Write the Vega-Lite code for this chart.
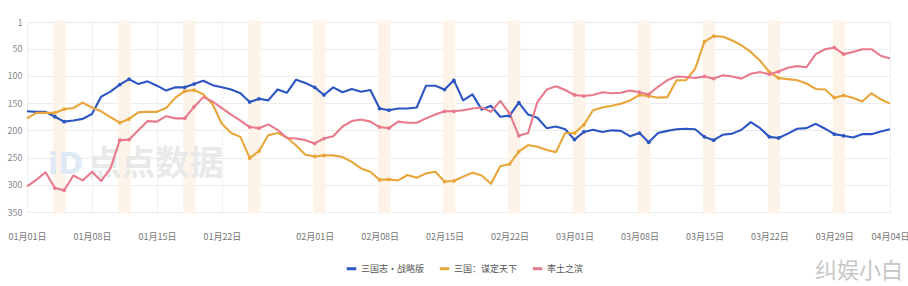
{
  "$schema": "https://vega.github.io/schema/vega-lite/v6.json",
  "width": 863,
  "height": 190,
  "autosize": {"type": "none"},
  "padding": {"left": 27, "top": 22, "right": 18, "bottom": 74},
  "background": "white",
  "title": {"text": "纠娱小白", "orient": "bottom", "anchor": "end", "fontSize": 22, "fontWeight": "normal", "color": "#c6c6c6", "font": "Noto Sans CJK SC", "offset": -14, "dx": -6},
  "config": {
    "view": {"stroke": null},
    "font": "Noto Sans CJK SC",
    "axis": {"labelFont": "Noto Sans CJK SC"}
  },
  "datasets": {
    "weekends": [
      {"start": "2025/01/04", "end": "2025/01/05"},
      {"start": "2025/01/11", "end": "2025/01/12"},
      {"start": "2025/01/18", "end": "2025/01/19"},
      {"start": "2025/01/25", "end": "2025/01/26"},
      {"start": "2025/02/01", "end": "2025/02/02"},
      {"start": "2025/02/08", "end": "2025/02/09"},
      {"start": "2025/02/15", "end": "2025/02/16"},
      {"start": "2025/02/22", "end": "2025/02/23"},
      {"start": "2025/03/01", "end": "2025/03/02"},
      {"start": "2025/03/08", "end": "2025/03/09"},
      {"start": "2025/03/15", "end": "2025/03/16"},
      {"start": "2025/03/22", "end": "2025/03/23"},
      {"start": "2025/03/29", "end": "2025/03/30"}
    ],
    "watermark": [{"label": "点点数据"}],
    "logo": [{"label": "iD"}],
    "ranks": [
      {"date":"2025/01/01","game":"三国志·战略版","rank":165},{"date":"2025/01/02","game":"三国志·战略版","rank":166},{"date":"2025/01/03","game":"三国志·战略版","rank":166},{"date":"2025/01/04","game":"三国志·战略版","rank":175},{"date":"2025/01/05","game":"三国志·战略版","rank":184},{"date":"2025/01/06","game":"三国志·战略版","rank":182},{"date":"2025/01/07","game":"三国志·战略版","rank":179},{"date":"2025/01/08","game":"三国志·战略版","rank":170},{"date":"2025/01/09","game":"三国志·战略版","rank":138},{"date":"2025/01/10","game":"三国志·战略版","rank":129},
      {"date":"2025/01/11","game":"三国志·战略版","rank":116},{"date":"2025/01/12","game":"三国志·战略版","rank":106},{"date":"2025/01/13","game":"三国志·战略版","rank":115},{"date":"2025/01/14","game":"三国志·战略版","rank":110},{"date":"2025/01/15","game":"三国志·战略版","rank":118},{"date":"2025/01/16","game":"三国志·战略版","rank":127},{"date":"2025/01/17","game":"三国志·战略版","rank":121},{"date":"2025/01/18","game":"三国志·战略版","rank":121},{"date":"2025/01/19","game":"三国志·战略版","rank":115},{"date":"2025/01/20","game":"三国志·战略版","rank":109},
      {"date":"2025/01/21","game":"三国志·战略版","rank":117},{"date":"2025/01/22","game":"三国志·战略版","rank":121},{"date":"2025/01/23","game":"三国志·战略版","rank":125},{"date":"2025/01/24","game":"三国志·战略版","rank":132},{"date":"2025/01/25","game":"三国志·战略版","rank":148},{"date":"2025/01/26","game":"三国志·战略版","rank":142},{"date":"2025/01/27","game":"三国志·战略版","rank":145},{"date":"2025/01/28","game":"三国志·战略版","rank":125},{"date":"2025/01/29","game":"三国志·战略版","rank":131},{"date":"2025/01/30","game":"三国志·战略版","rank":107},
      {"date":"2025/01/31","game":"三国志·战略版","rank":113},{"date":"2025/02/01","game":"三国志·战略版","rank":121},{"date":"2025/02/02","game":"三国志·战略版","rank":135},{"date":"2025/02/03","game":"三国志·战略版","rank":121},{"date":"2025/02/04","game":"三国志·战略版","rank":130},{"date":"2025/02/05","game":"三国志·战略版","rank":124},{"date":"2025/02/06","game":"三国志·战略版","rank":129},{"date":"2025/02/07","game":"三国志·战略版","rank":126},{"date":"2025/02/08","game":"三国志·战略版","rank":160},{"date":"2025/02/09","game":"三国志·战略版","rank":163},
      {"date":"2025/02/10","game":"三国志·战略版","rank":160},{"date":"2025/02/11","game":"三国志·战略版","rank":160},{"date":"2025/02/12","game":"三国志·战略版","rank":158},{"date":"2025/02/13","game":"三国志·战略版","rank":118},{"date":"2025/02/14","game":"三国志·战略版","rank":118},{"date":"2025/02/15","game":"三国志·战略版","rank":125},{"date":"2025/02/16","game":"三国志·战略版","rank":108},{"date":"2025/02/17","game":"三国志·战略版","rank":145},{"date":"2025/02/18","game":"三国志·战略版","rank":134},{"date":"2025/02/19","game":"三国志·战略版","rank":162},
      {"date":"2025/02/20","game":"三国志·战略版","rank":155},{"date":"2025/02/21","game":"三国志·战略版","rank":175},{"date":"2025/02/22","game":"三国志·战略版","rank":173},{"date":"2025/02/23","game":"三国志·战略版","rank":149},{"date":"2025/02/24","game":"三国志·战略版","rank":171},{"date":"2025/02/25","game":"三国志·战略版","rank":177},{"date":"2025/02/26","game":"三国志·战略版","rank":196},{"date":"2025/02/27","game":"三国志·战略版","rank":193},{"date":"2025/02/28","game":"三国志·战略版","rank":198},{"date":"2025/03/01","game":"三国志·战略版","rank":217},
      {"date":"2025/03/02","game":"三国志·战略版","rank":203},{"date":"2025/03/03","game":"三国志·战略版","rank":199},{"date":"2025/03/04","game":"三国志·战略版","rank":203},{"date":"2025/03/05","game":"三国志·战略版","rank":200},{"date":"2025/03/06","game":"三国志·战略版","rank":201},{"date":"2025/03/07","game":"三国志·战略版","rank":211},{"date":"2025/03/08","game":"三国志·战略版","rank":205},{"date":"2025/03/09","game":"三国志·战略版","rank":222},{"date":"2025/03/10","game":"三国志·战略版","rank":205},{"date":"2025/03/11","game":"三国志·战略版","rank":201},
      {"date":"2025/03/12","game":"三国志·战略版","rank":198},{"date":"2025/03/13","game":"三国志·战略版","rank":197},{"date":"2025/03/14","game":"三国志·战略版","rank":198},{"date":"2025/03/15","game":"三国志·战略版","rank":212},{"date":"2025/03/16","game":"三国志·战略版","rank":218},{"date":"2025/03/17","game":"三国志·战略版","rank":208},{"date":"2025/03/18","game":"三国志·战略版","rank":206},{"date":"2025/03/19","game":"三国志·战略版","rank":199},{"date":"2025/03/20","game":"三国志·战略版","rank":185},{"date":"2025/03/21","game":"三国志·战略版","rank":196},
      {"date":"2025/03/22","game":"三国志·战略版","rank":212},{"date":"2025/03/23","game":"三国志·战略版","rank":214},{"date":"2025/03/24","game":"三国志·战略版","rank":206},{"date":"2025/03/25","game":"三国志·战略版","rank":197},{"date":"2025/03/26","game":"三国志·战略版","rank":196},{"date":"2025/03/27","game":"三国志·战略版","rank":188},{"date":"2025/03/28","game":"三国志·战略版","rank":197},{"date":"2025/03/29","game":"三国志·战略版","rank":207},{"date":"2025/03/30","game":"三国志·战略版","rank":210},{"date":"2025/03/31","game":"三国志·战略版","rank":213},
      {"date":"2025/04/01","game":"三国志·战略版","rank":207},{"date":"2025/04/02","game":"三国志·战略版","rank":207},{"date":"2025/04/03","game":"三国志·战略版","rank":202},{"date":"2025/04/04","game":"三国志·战略版","rank":198},

      {"date":"2025/01/01","game":"三国：谋定天下","rank":178},{"date":"2025/01/02","game":"三国：谋定天下","rank":168},{"date":"2025/01/03","game":"三国：谋定天下","rank":168},{"date":"2025/01/04","game":"三国：谋定天下","rank":168},{"date":"2025/01/05","game":"三国：谋定天下","rank":161},{"date":"2025/01/06","game":"三国：谋定天下","rank":159},{"date":"2025/01/07","game":"三国：谋定天下","rank":149},{"date":"2025/01/08","game":"三国：谋定天下","rank":158},{"date":"2025/01/09","game":"三国：谋定天下","rank":165},{"date":"2025/01/10","game":"三国：谋定天下","rank":176},
      {"date":"2025/01/11","game":"三国：谋定天下","rank":186},{"date":"2025/01/12","game":"三国：谋定天下","rank":179},{"date":"2025/01/13","game":"三国：谋定天下","rank":167},{"date":"2025/01/14","game":"三国：谋定天下","rank":166},{"date":"2025/01/15","game":"三国：谋定天下","rank":166},{"date":"2025/01/16","game":"三国：谋定天下","rank":159},{"date":"2025/01/17","game":"三国：谋定天下","rank":140},{"date":"2025/01/18","game":"三国：谋定天下","rank":128},{"date":"2025/01/19","game":"三国：谋定天下","rank":126},{"date":"2025/01/20","game":"三国：谋定天下","rank":134},
      {"date":"2025/01/21","game":"三国：谋定天下","rank":152},{"date":"2025/01/22","game":"三国：谋定天下","rank":188},{"date":"2025/01/23","game":"三国：谋定天下","rank":205},{"date":"2025/01/24","game":"三国：谋定天下","rank":212},{"date":"2025/01/25","game":"三国：谋定天下","rank":251},{"date":"2025/01/26","game":"三国：谋定天下","rank":238},{"date":"2025/01/27","game":"三国：谋定天下","rank":209},{"date":"2025/01/28","game":"三国：谋定天下","rank":205},{"date":"2025/01/29","game":"三国：谋定天下","rank":213},{"date":"2025/01/30","game":"三国：谋定天下","rank":228},
      {"date":"2025/01/31","game":"三国：谋定天下","rank":245},{"date":"2025/02/01","game":"三国：谋定天下","rank":248},{"date":"2025/02/02","game":"三国：谋定天下","rank":246},{"date":"2025/02/03","game":"三国：谋定天下","rank":246},{"date":"2025/02/04","game":"三国：谋定天下","rank":249},{"date":"2025/02/05","game":"三国：谋定天下","rank":258},{"date":"2025/02/06","game":"三国：谋定天下","rank":270},{"date":"2025/02/07","game":"三国：谋定天下","rank":276},{"date":"2025/02/08","game":"三国：谋定天下","rank":291},{"date":"2025/02/09","game":"三国：谋定天下","rank":290},
      {"date":"2025/02/10","game":"三国：谋定天下","rank":292},{"date":"2025/02/11","game":"三国：谋定天下","rank":282},{"date":"2025/02/12","game":"三国：谋定天下","rank":287},{"date":"2025/02/13","game":"三国：谋定天下","rank":279},{"date":"2025/02/14","game":"三国：谋定天下","rank":276},{"date":"2025/02/15","game":"三国：谋定天下","rank":294},{"date":"2025/02/16","game":"三国：谋定天下","rank":293},{"date":"2025/02/17","game":"三国：谋定天下","rank":285},{"date":"2025/02/18","game":"三国：谋定天下","rank":278},{"date":"2025/02/19","game":"三国：谋定天下","rank":283},
      {"date":"2025/02/20","game":"三国：谋定天下","rank":298},{"date":"2025/02/21","game":"三国：谋定天下","rank":266},{"date":"2025/02/22","game":"三国：谋定天下","rank":262},{"date":"2025/02/23","game":"三国：谋定天下","rank":239},{"date":"2025/02/24","game":"三国：谋定天下","rank":227},{"date":"2025/02/25","game":"三国：谋定天下","rank":230},{"date":"2025/02/26","game":"三国：谋定天下","rank":236},{"date":"2025/02/27","game":"三国：谋定天下","rank":240},{"date":"2025/02/28","game":"三国：谋定天下","rank":205},{"date":"2025/03/01","game":"三国：谋定天下","rank":205},
      {"date":"2025/03/02","game":"三国：谋定天下","rank":190},{"date":"2025/03/03","game":"三国：谋定天下","rank":163},{"date":"2025/03/04","game":"三国：谋定天下","rank":158},{"date":"2025/03/05","game":"三国：谋定天下","rank":155},{"date":"2025/03/06","game":"三国：谋定天下","rank":151},{"date":"2025/03/07","game":"三国：谋定天下","rank":145},{"date":"2025/03/08","game":"三国：谋定天下","rank":135},{"date":"2025/03/09","game":"三国：谋定天下","rank":137},{"date":"2025/03/10","game":"三国：谋定天下","rank":140},{"date":"2025/03/11","game":"三国：谋定天下","rank":139},
      {"date":"2025/03/12","game":"三国：谋定天下","rank":108},{"date":"2025/03/13","game":"三国：谋定天下","rank":108},{"date":"2025/03/14","game":"三国：谋定天下","rank":87},{"date":"2025/03/15","game":"三国：谋定天下","rank":37},{"date":"2025/03/16","game":"三国：谋定天下","rank":27},{"date":"2025/03/17","game":"三国：谋定天下","rank":28},{"date":"2025/03/18","game":"三国：谋定天下","rank":35},{"date":"2025/03/19","game":"三国：谋定天下","rank":44},{"date":"2025/03/20","game":"三国：谋定天下","rank":56},{"date":"2025/03/21","game":"三国：谋定天下","rank":72},
      {"date":"2025/03/22","game":"三国：谋定天下","rank":93},{"date":"2025/03/23","game":"三国：谋定天下","rank":104},{"date":"2025/03/24","game":"三国：谋定天下","rank":106},{"date":"2025/03/25","game":"三国：谋定天下","rank":108},{"date":"2025/03/26","game":"三国：谋定天下","rank":114},{"date":"2025/03/27","game":"三国：谋定天下","rank":124},{"date":"2025/03/28","game":"三国：谋定天下","rank":125},{"date":"2025/03/29","game":"三国：谋定天下","rank":140},{"date":"2025/03/30","game":"三国：谋定天下","rank":136},{"date":"2025/03/31","game":"三国：谋定天下","rank":140},
      {"date":"2025/04/01","game":"三国：谋定天下","rank":147},{"date":"2025/04/02","game":"三国：谋定天下","rank":132},{"date":"2025/04/03","game":"三国：谋定天下","rank":143},{"date":"2025/04/04","game":"三国：谋定天下","rank":151},

      {"date":"2025/01/01","game":"率土之滨","rank":303},{"date":"2025/01/02","game":"率土之滨","rank":291},{"date":"2025/01/03","game":"率土之滨","rank":277},{"date":"2025/01/04","game":"率土之滨","rank":306},{"date":"2025/01/05","game":"率土之滨","rank":310},{"date":"2025/01/06","game":"率土之滨","rank":283},{"date":"2025/01/07","game":"率土之滨","rank":292},{"date":"2025/01/08","game":"率土之滨","rank":276},{"date":"2025/01/09","game":"率土之滨","rank":293},{"date":"2025/01/10","game":"率土之滨","rank":270},
      {"date":"2025/01/11","game":"率土之滨","rank":218},{"date":"2025/01/12","game":"率土之滨","rank":217},{"date":"2025/01/13","game":"率土之滨","rank":200},{"date":"2025/01/14","game":"率土之滨","rank":183},{"date":"2025/01/15","game":"率土之滨","rank":184},{"date":"2025/01/16","game":"率土之滨","rank":174},{"date":"2025/01/17","game":"率土之滨","rank":178},{"date":"2025/01/18","game":"率土之滨","rank":178},{"date":"2025/01/19","game":"率土之滨","rank":157},{"date":"2025/01/20","game":"率土之滨","rank":139},
      {"date":"2025/01/21","game":"率土之滨","rank":147},{"date":"2025/01/22","game":"率土之滨","rank":159},{"date":"2025/01/23","game":"率土之滨","rank":171},{"date":"2025/01/24","game":"率土之滨","rank":182},{"date":"2025/01/25","game":"率土之滨","rank":194},{"date":"2025/01/26","game":"率土之滨","rank":196},{"date":"2025/01/27","game":"率土之滨","rank":189},{"date":"2025/01/28","game":"率土之滨","rank":199},{"date":"2025/01/29","game":"率土之滨","rank":214},{"date":"2025/01/30","game":"率土之滨","rank":215},
      {"date":"2025/01/31","game":"率土之滨","rank":218},{"date":"2025/02/01","game":"率土之滨","rank":224},{"date":"2025/02/02","game":"率土之滨","rank":215},{"date":"2025/02/03","game":"率土之滨","rank":211},{"date":"2025/02/04","game":"率土之滨","rank":193},{"date":"2025/02/05","game":"率土之滨","rank":183},{"date":"2025/02/06","game":"率土之滨","rank":180},{"date":"2025/02/07","game":"率土之滨","rank":184},{"date":"2025/02/08","game":"率土之滨","rank":194},{"date":"2025/02/09","game":"率土之滨","rank":196},
      {"date":"2025/02/10","game":"率土之滨","rank":184},{"date":"2025/02/11","game":"率土之滨","rank":186},{"date":"2025/02/12","game":"率土之滨","rank":186},{"date":"2025/02/13","game":"率土之滨","rank":178},{"date":"2025/02/14","game":"率土之滨","rank":171},{"date":"2025/02/15","game":"率土之滨","rank":165},{"date":"2025/02/16","game":"率土之滨","rank":165},{"date":"2025/02/17","game":"率土之滨","rank":163},{"date":"2025/02/18","game":"率土之滨","rank":160},{"date":"2025/02/19","game":"率土之滨","rank":158},
      {"date":"2025/02/20","game":"率土之滨","rank":166},{"date":"2025/02/21","game":"率土之滨","rank":146},{"date":"2025/02/22","game":"率土之滨","rank":169},{"date":"2025/02/23","game":"率土之滨","rank":210},{"date":"2025/02/24","game":"率土之滨","rank":205},{"date":"2025/02/25","game":"率土之滨","rank":148},{"date":"2025/02/26","game":"率土之滨","rank":125},{"date":"2025/02/27","game":"率土之滨","rank":119},{"date":"2025/02/28","game":"率土之滨","rank":126},{"date":"2025/03/01","game":"率土之滨","rank":135},
      {"date":"2025/03/02","game":"率土之滨","rank":137},{"date":"2025/03/03","game":"率土之滨","rank":135},{"date":"2025/03/04","game":"率土之滨","rank":130},{"date":"2025/03/05","game":"率土之滨","rank":132},{"date":"2025/03/06","game":"率土之滨","rank":131},{"date":"2025/03/07","game":"率土之滨","rank":127},{"date":"2025/03/08","game":"率土之滨","rank":130},{"date":"2025/03/09","game":"率土之滨","rank":134},{"date":"2025/03/10","game":"率土之滨","rank":120},{"date":"2025/03/11","game":"率土之滨","rank":108},
      {"date":"2025/03/12","game":"率土之滨","rank":101},{"date":"2025/03/13","game":"率土之滨","rank":102},{"date":"2025/03/14","game":"率土之滨","rank":104},{"date":"2025/03/15","game":"率土之滨","rank":101},{"date":"2025/03/16","game":"率土之滨","rank":105},{"date":"2025/03/17","game":"率土之滨","rank":99},{"date":"2025/03/18","game":"率土之滨","rank":101},{"date":"2025/03/19","game":"率土之滨","rank":105},{"date":"2025/03/20","game":"率土之滨","rank":96},{"date":"2025/03/21","game":"率土之滨","rank":93},
      {"date":"2025/03/22","game":"率土之滨","rank":97},{"date":"2025/03/23","game":"率土之滨","rank":92},{"date":"2025/03/24","game":"率土之滨","rank":85},{"date":"2025/03/25","game":"率土之滨","rank":82},{"date":"2025/03/26","game":"率土之滨","rank":84},{"date":"2025/03/27","game":"率土之滨","rank":60},{"date":"2025/03/28","game":"率土之滨","rank":51},{"date":"2025/03/29","game":"率土之滨","rank":48},{"date":"2025/03/30","game":"率土之滨","rank":60},{"date":"2025/03/31","game":"率土之滨","rank":56},
      {"date":"2025/04/01","game":"率土之滨","rank":51},{"date":"2025/04/02","game":"率土之滨","rank":51},{"date":"2025/04/03","game":"率土之滨","rank":63},{"date":"2025/04/04","game":"率土之滨","rank":68}
    ]
  },
  "layer": [
    {
      "data": {"name": "weekends"},
      "mark": {"type": "rect", "color": "#fef3e8", "stroke": "#fef3e8", "strokeWidth": 3},
      "encoding": {
        "x": {
          "field": "start", "type": "temporal",
          "scale": {"domain": [{"year": 2025, "month": 1, "date": 1}, {"year": 2025, "month": 4, "date": 4}], "nice": false},
          "axis": {
            "title": null,
            "values": [
              {"year": 2025, "month": 1, "date": 1}, {"year": 2025, "month": 1, "date": 8}, {"year": 2025, "month": 1, "date": 15}, {"year": 2025, "month": 1, "date": 22},
              {"year": 2025, "month": 2, "date": 1}, {"year": 2025, "month": 2, "date": 8}, {"year": 2025, "month": 2, "date": 15}, {"year": 2025, "month": 2, "date": 22},
              {"year": 2025, "month": 3, "date": 1}, {"year": 2025, "month": 3, "date": 8}, {"year": 2025, "month": 3, "date": 15}, {"year": 2025, "month": 3, "date": 22},
              {"year": 2025, "month": 3, "date": 29}, {"year": 2025, "month": 4, "date": 4}
            ],
            "tickCount": 30,
            "format": "%m月%d日",
            "labelFontSize": 9,
            "labelColor": "#777777",
            "labelPadding": 20,
            "labelOverlap": false,
            "labelBound": false,
            "labelFlush": false,
            "ticks": false,
            "domain": false,
            "grid": true,
            "gridColor": "#f1f1f1",
            "gridWidth": 1
          }
        },
        "x2": {"field": "end"}
      }
    },
    {
      "data": {"name": "logo"},
      "mark": {"type": "text", "fontSize": 30, "fontWeight": "bold", "color": "#dfe8f5", "font": "DejaVu Sans"},
      "encoding": {
        "x": {"datum": {"year": 2025, "month": 1, "date": 5, "hours": 4}, "type": "temporal"},
        "y": {
          "datum": 263, "type": "quantitative",
          "scale": {"domain": [1, 350], "reverse": true, "nice": false, "zero": false},
          "axis": {
            "title": null,
            "values": [1, 50, 100, 150, 200, 250, 300, 350],
            "tickCount": 20,
            "labelFontSize": 9,
            "labelColor": "#888888",
            "labelPadding": 5,
            "labelOverlap": false,
            "labelBound": false,
            "labelFlush": false,
            "ticks": false,
            "domain": false,
            "grid": true,
            "gridColor": "#ececec"
          }
        },
        "text": {"field": "label"}
      }
    },
    {
      "data": {"name": "watermark"},
      "mark": {"type": "text", "fontSize": 34, "fontWeight": "bold", "color": "#e9e9e9", "font": "Noto Sans CJK SC"},
      "encoding": {
        "x": {"datum": {"year": 2025, "month": 1, "date": 14, "hours": 20}, "type": "temporal"},
        "y": {"datum": 264, "type": "quantitative"},
        "text": {"field": "label"}
      }
    },
    {
      "data": {"name": "ranks"},
      "mark": {"type": "line", "strokeWidth": 2.1, "strokeJoin": "round"},
      "encoding": {
        "x": {"field": "date", "type": "temporal"},
        "y": {"field": "rank", "type": "quantitative"},
        "color": {
          "field": "game", "type": "nominal",
          "scale": {"domain": ["三国志·战略版", "三国：谋定天下", "率土之滨"], "range": ["#2b55c2", "#e8a53a", "#e97a8b"]},
          "legend": {
            "title": null,
            "orient": "none",
            "legendX": 318,
            "legendY": 240,
            "direction": "horizontal",
            "symbolType": "stroke",
            "symbolStrokeWidth": 3,
            "symbolSize": 90,
            "labelFontSize": 9,
            "labelColor": "#555555",
            "columnPadding": 8,
            "labelOffset": 3
          }
        }
      }
    },
    {
      "data": {"name": "ranks"},
      "transform": [{"filter": "day(datum.date) == 0 || day(datum.date) == 6"}],
      "mark": {"type": "point", "filled": true, "size": 14, "opacity": 1},
      "encoding": {
        "x": {"field": "date", "type": "temporal"},
        "y": {"field": "rank", "type": "quantitative"},
        "color": {"field": "game", "type": "nominal", "legend": null}
      }
    }
  ]
}
